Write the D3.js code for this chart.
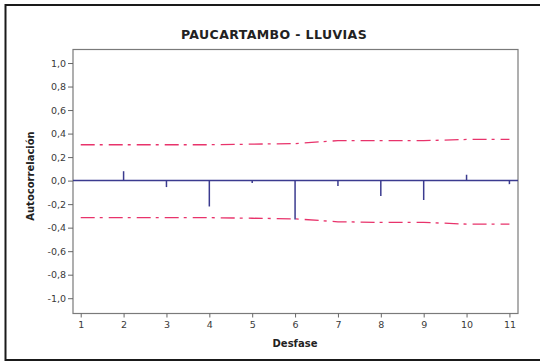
<!DOCTYPE html>
<html>
<head>
<meta charset="utf-8">
<script src="https://cdn.jsdelivr.net/npm/d3@7"></script>
<style>
  html, body { margin: 0; padding: 0; background: #ffffff; }
  svg { display: block; }
</style>
</head>
<body>
<script>
// ---- Data ----
const title = "PAUCARTAMBO - LLUVIAS";
const xTitle = "Desfase";
const yTitle = "Autocorrelación";
const lags = [1, 2, 3, 4, 5, 6, 7, 8, 9, 10, 11];
const acf = [0.005, 0.08, -0.055, -0.22, -0.02, -0.33, -0.045, -0.13, -0.165, 0.05, -0.03];
const upperLimit = [0.305, 0.305, 0.305, 0.305, 0.31, 0.315, 0.34, 0.34, 0.34, 0.35, 0.35];
const lowerLimit = [-0.315, -0.315, -0.315, -0.315, -0.32, -0.325, -0.35, -0.355, -0.355, -0.37, -0.37];
const yTicks = [1.0, 0.8, 0.6, 0.4, 0.2, 0.0, -0.2, -0.4, -0.6, -0.8, -1.0];

const W = 540, H = 363;
const plot = { left: 73, right: 518, top: 49.5, bottom: 313.5 };

const svg = d3.select("body").append("svg").attr("width", W).attr("height", H);

// outer frame (left, top, bottom)
svg.append("rect").attr("x", 0).attr("y", 0).attr("width", W).attr("height", H).attr("fill", "#ffffff");
svg.append("path")
  .attr("d", `M${W},5 H5.5 V360 H${W}`)
  .attr("fill", "none").attr("stroke", "#1a1a1a").attr("stroke-width", 2);

const x = d3.scaleLinear().domain([0.82, 11.2]).range([plot.left, plot.right]);
const y = d3.scaleLinear().domain([-1.13, 1.115]).range([plot.bottom, plot.top]);

// plot frame
svg.append("rect")
  .attr("x", plot.left).attr("y", plot.top)
  .attr("width", plot.right - plot.left).attr("height", plot.bottom - plot.top)
  .attr("fill", "none").attr("stroke", "#7a7a7a").attr("stroke-width", 1.2);

const fmt = d => d3.format(".1f")(d).replace(".", ",").replace("−", "-");

// y axis
const yAxis = d3.axisLeft(y).tickValues(yTicks).tickSize(5).tickPadding(2).tickFormat(fmt);
const gy = svg.append("g").attr("transform", `translate(${plot.left},0)`).call(yAxis);
gy.select(".domain").remove();
gy.selectAll("line").attr("stroke", "#666");
gy.selectAll("text").attr("font-family", "DejaVu Sans, Verdana, sans-serif")
  .attr("font-size", 9.5).attr("fill", "#3a3a3a");

// x axis
const xAxis = d3.axisBottom(x).tickValues(lags).tickSize(4).tickPadding(4).tickFormat(d3.format("d"));
const gx = svg.append("g").attr("transform", `translate(0,${plot.bottom})`).call(xAxis);
gx.select(".domain").remove();
gx.selectAll("line").attr("stroke", "#666");
gx.selectAll("text").attr("font-family", "DejaVu Sans, Verdana, sans-serif")
  .attr("font-size", 9.5).attr("fill", "#3a3a3a");

// confidence limits
const limLine = d3.line().x((d, i) => x(lags[i])).y(d => y(d));
[upperLimit, lowerLimit].forEach(arr => {
  svg.append("path").attr("d", limLine(arr))
    .attr("fill", "none").attr("stroke", "#e8336b").attr("stroke-width", 1.3)
    .attr("stroke-dasharray", "14,5,3,6");
});

// zero line
svg.append("line")
  .attr("x1", plot.left).attr("x2", plot.right)
  .attr("y1", y(0)).attr("y2", y(0))
  .attr("stroke", "#3b3b8f").attr("stroke-width", 1.5);

// bars
svg.append("g").selectAll("line").data(acf).join("line")
  .attr("x1", (d, i) => x(lags[i])).attr("x2", (d, i) => x(lags[i]))
  .attr("y1", y(0)).attr("y2", d => y(d))
  .attr("stroke", "#3b3b8f").attr("stroke-width", 1.5);

// titles
svg.append("text").attr("x", 274).attr("y", 39).attr("text-anchor", "middle")
  .attr("font-family", "DejaVu Sans, Verdana, sans-serif").attr("font-size", 12.5)
  .attr("letter-spacing", 0.4)
  .attr("font-weight", "bold").attr("fill", "#222").text(title);

svg.append("text").attr("x", 295).attr("y", 347).attr("text-anchor", "middle")
  .attr("font-family", "DejaVu Sans, Verdana, sans-serif").attr("font-size", 10)
  .attr("font-weight", "bold").attr("fill", "#222").text(xTitle);

svg.append("text").attr("transform", "translate(34,176) rotate(-90)").attr("text-anchor", "middle")
  .attr("font-family", "DejaVu Sans, Verdana, sans-serif").attr("font-size", 10)
  .attr("font-weight", "bold").attr("fill", "#222").text(yTitle);
</script>
</body>
</html>
